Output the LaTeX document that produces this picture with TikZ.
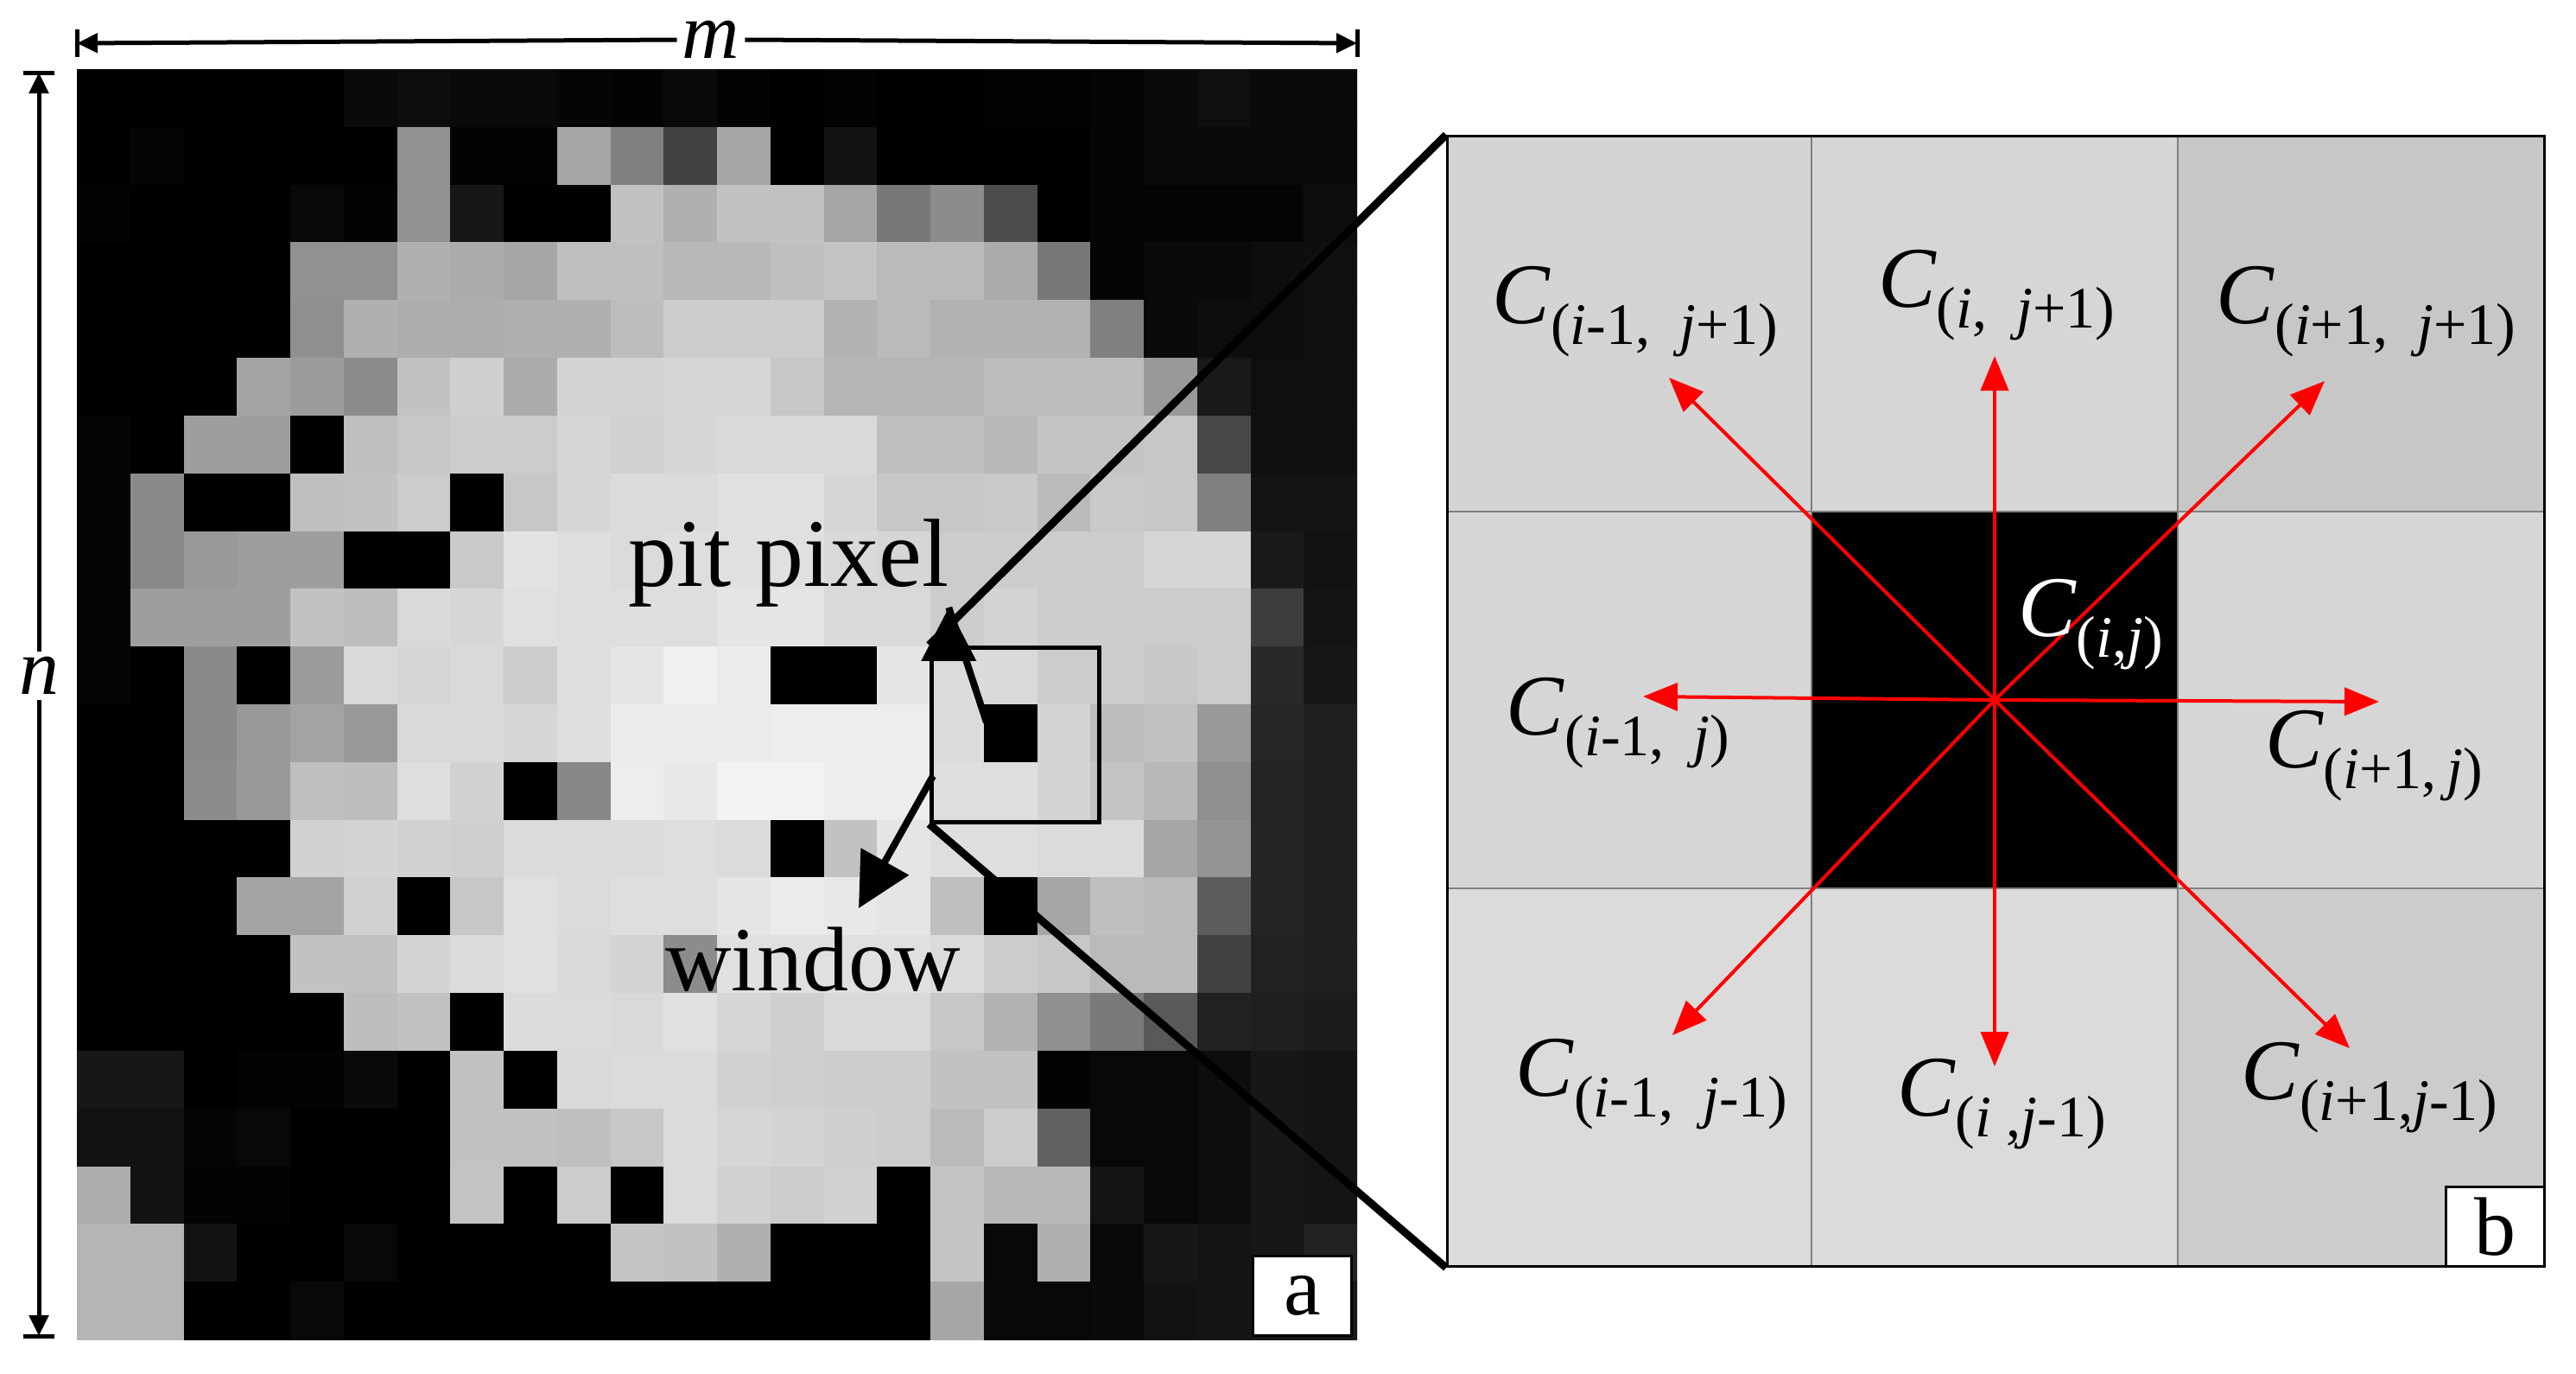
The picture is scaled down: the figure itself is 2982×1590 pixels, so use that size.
\documentclass[tikz,border=0pt]{standalone}
\usepackage{fontspec}
\setmainfont{Liberation Serif}
\usetikzlibrary{arrows.meta}
\newcommand\Clab[2]{\textit{C}\raisebox{-24pt}{\fontsize{68}{68}\selectfont(\textit{#1},\,\textit{#2})}}
\newcommand\Craw[1]{\textit{C}\raisebox{-24pt}{\fontsize{68}{68}\selectfont #1}}
\begin{document}
\begin{tikzpicture}[x=1pt,y=-1pt,
  clabel/.style={font=\fontsize{100}{100}\selectfont, inner sep=0pt},
  bigtext/.style={font=\fontsize{112}{112}\selectfont, inner sep=0pt},
  redarrow/.style={draw=red, line width=4pt, -{Triangle[length=40pt,width=32pt]}},
  blackarrow/.style={line width=8pt, -{Triangle[length=62pt,width=62pt]}},
  dimline/.style={line width=5pt, -{Triangle[length=24pt,width=22pt]}},
  tag/.style={draw, line width=3pt, fill=white, inner sep=0pt, font=\fontsize{96}{96}\selectfont, minimum width=114pt, minimum height=92pt}]
\useasboundingbox (0,0) rectangle (2982,1590);
\fill[white] (0,0) rectangle (2982,1590);
\def\cw{61.75}\def\ch{66.82}
\begin{scope}
\clip (89,80) rectangle (1571,1550);
\foreach \r/\row in {
0/{0,0,0,0,0,4,5,4,4,2,1,4,1,0,1,0,0,1,1,2,4,6,4,4},
1/{0,2,0,0,0,0,57,1,1,65,50,26,65,0,7,0,0,0,0,2,4,4,4,4},
2/{1,0,0,0,3,1,57,9,0,0,76,69,76,76,65,47,55,30,0,2,2,2,2,5},
3/{0,0,0,0,57,57,69,67,65,75,75,72,72,75,77,73,73,67,47,2,4,4,5,6},
4/{0,0,0,0,56,69,68,68,69,69,74,80,80,80,70,73,70,70,70,50,4,5,5,6},
5/{0,0,0,64,61,55,76,81,67,83,83,84,84,78,71,71,71,74,74,74,60,10,6,6},
6/{2,0,62,62,0,75,78,80,80,84,82,84,85,85,85,75,75,72,77,77,78,28,6,6},
7/{2,54,0,0,75,76,80,0,78,84,86,86,88,88,84,78,78,79,73,79,78,50,8,8},
8/{2,54,60,62,62,0,0,79,89,87,86,87,88,88,85,84,80,80,80,80,84,84,10,7},
9/{2,62,62,62,76,74,85,84,88,87,87,87,90,90,85,85,80,83,80,80,80,80,24,8},
10/{2,0,54,0,61,85,84,85,80,87,90,94,92,0,0,90,86,85,80,80,78,80,16,9},
11/{0,0,54,60,64,60,85,85,84,87,92,92,92,93,93,93,86,0,83,74,76,60,15,12},
12/{0,0,55,60,75,74,87,82,0,53,93,91,95,95,93,93,87,87,83,77,72,56,14,12},
13/{0,0,0,0,82,83,82,81,86,86,86,87,86,0,76,90,87,87,86,86,65,58,14,12},
14/{0,0,0,64,64,82,0,78,88,86,87,87,90,92,91,90,75,0,65,75,73,36,14,12},
15/{0,0,0,0,76,76,83,86,88,85,83,55,88,88,88,88,86,80,78,73,73,26,13,12},
16/{0,0,0,0,0,74,76,0,86,86,85,88,84,81,85,85,78,70,56,48,35,13,12,11},
17/{9,9,0,1,1,4,0,76,0,85,86,86,82,81,80,80,76,76,1,3,3,5,9,8},
18/{7,7,2,3,0,0,0,76,76,75,78,86,84,83,81,80,73,80,38,3,3,5,9,8},
19/{68,7,1,1,0,0,0,77,0,80,0,86,82,80,82,0,77,72,72,8,3,5,9,8},
20/{71,71,7,0,0,3,0,0,0,0,77,76,69,0,0,0,77,3,69,3,9,8,9,13},
21/{71,71,0,0,3,0,0,0,0,0,0,0,0,0,0,0,65,3,3,4,7,8,9,9}}{
  \foreach \v [count=\c from 0] in \row {
    \fill[white!\v!black] ({89+\c*\cw},{80+\r*\ch}) rectangle ++(\cw+0.8,\ch+0.8);
  }
}
\end{scope}
% dimension lines
\coordinate (mL) at (89,50); \coordinate (mR) at (1571,50);
\coordinate (nT) at (45,84); \coordinate (nB) at (45,1546);
\node[font=\fontsize{92}{92}\selectfont\itshape, fill=white, inner sep=6pt] (mlab) at (823,46) {m};
\node[font=\fontsize{92}{92}\selectfont\itshape, fill=white, inner sep=6pt] (nlab) at (45,782) {n};
\draw[dimline] (mlab.west) -- (mL);
\draw[dimline] (mlab.east) -- (mR);
\draw[dimline] (nlab.north) -- (nT);
\draw[dimline] (nlab.south) -- (nB);
\draw[line width=5pt] (89,34) -- (89,66) (1571,34) -- (1571,66) (27,84) -- (63,84) (27,1546) -- (63,1546);
% window box
\node[draw, line width=5pt, minimum width=194pt, minimum height=202pt, inner sep=0pt] (win) at (1175,850) {};
\coordinate (pitc) at (1142,836);
\coordinate (winc) at (1080,898);
% texts
\node[bigtext] (pit) at (913,652) {pit pixel};
\node[bigtext, font=\fontsize{106}{106}\selectfont] (wtext) at (941,1110) {window};
\draw[blackarrow] (pitc) -- (pit.south east) ++(0,0);
\coordinate (wtip) at (994,1051);
\draw[blackarrow] (winc) -- (wtip);
\node[tag, anchor=south east] (taga) at (1566,1547) {a};
% right panel
\def\rw{423.33}\def\rh{436}
\foreach \r/\row in {0/{83,84,78},1/{84,0,84},2/{86,86,80}}{
  \foreach \v [count=\c from 0] in \row {
    \fill[white!\v!black] ({1674+\c*\rw},{156+\r*\rh}) rectangle ++(\rw,\rh);
  }
}
\draw[gray, line width=2pt] (1674+\rw,156) -- (1674+\rw,1464) (1674+2*\rw,156) -- (1674+2*\rw,1464)
  (1674,156+\rh) -- (2944,156+\rh) (1674,156+2*\rh) -- (2944,156+2*\rh);
\node[draw, line width=3pt, minimum width=1270pt, minimum height=1308pt, inner sep=0pt, anchor=north west] (rp) at (1674,156) {};
\draw[line width=9pt] (win.north west) -- (rp.north west);
\draw[line width=9pt] (win.south west) -- (rp.south west);
\node[tag, anchor=south east] (tagb) at (rp.south east) {b};
% red arrows
\coordinate (ctr) at (2309,810);
\coordinate (tU) at (2309,412);
\coordinate (tD) at (2309,1234);
\coordinate (tL) at (1902,806);
\coordinate (tR) at (2754,812);
\coordinate (tUL) at (1932,437);
\coordinate (tUR) at (2691,441);
\coordinate (tDL) at (1936,1198);
\coordinate (tDR) at (2720,1213);
\foreach \t in {tU,tD,tL,tR,tUL,tUR,tDL,tDR} { \draw[redarrow] (ctr) -- (\t); }
% labels
\node[clabel] (cUL) at (1893,361) {\Craw{(\textit{i}-1,\ \ \textit{j}+1)}};
\node[clabel] (cU) at (2311,342) {\Craw{(\textit{i},\ \ \textit{j}+1)}};
\node[clabel] (cUR) at (2739,361) {\Craw{(\textit{i}+1,\ \ \textit{j}+1)}};
\node[clabel, text=white] (cC) at (2420,723) {\Craw{(\textit{i},\textit{j})}};
\node[clabel] (cL) at (1873,837) {\Craw{(\textit{i}-1,\ \ \textit{j})}};
\node[clabel] (cR) at (2748,875) {\Craw{(\textit{i}+1,\,\textit{j})}};
\node[clabel] (cDL) at (1912,1255) {\Craw{(\textit{i}-1,\ \ \textit{j}-1)}};
\node[clabel] (cD) at (2317,1278) {\Craw{(\textit{i}\ ,\textit{j}-1)}};
\node[clabel] (cDR) at (2743,1259) {\Craw{(\textit{i}+1,\textit{j}-1)}};
\end{tikzpicture}
\end{document}
